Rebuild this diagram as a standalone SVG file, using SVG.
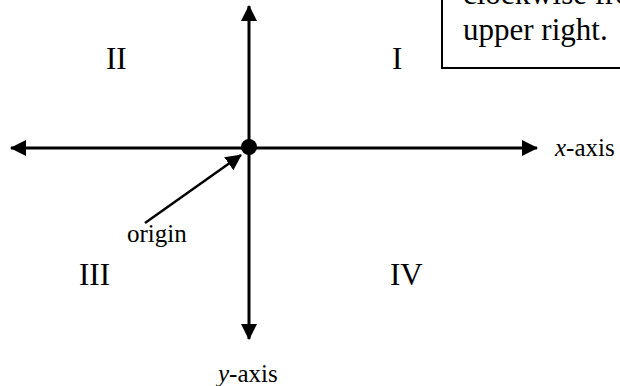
<svg xmlns="http://www.w3.org/2000/svg" width="620" height="386" viewBox="0 0 620 386">
  <style>
    text { font-family: 'Liberation Serif', 'DejaVu Serif', serif; fill: #000; }
    .big { font-size: 31px; }
    .small { font-size: 25px; }
    .ax { stroke: #000; stroke-width: 3; fill: none; }
    .ptr { stroke: #000; stroke-width: 2.5; fill: none; }
  </style>
  <defs>
    <marker id="head" viewBox="0 0 16 16" refX="15" refY="8" markerWidth="16" markerHeight="16" markerUnits="userSpaceOnUse" orient="auto">
      <path d="M0,0 L16,8 L0,16 Z" fill="#000"/>
    </marker>
  </defs>
  <rect width="620" height="386" fill="#fff"/>

  <g id="note">
    <rect x="442" y="-60" width="240" height="128" fill="#fff" stroke="#000" stroke-width="2"/>
    <text class="big" x="463" y="4" font-family="Liberation Serif, serif">clockwise from</text>
    <text class="big" x="463" y="40" font-family="Liberation Serif, serif">upper right.</text>
  </g>

  <g id="connectors">
    <line class="ax" x1="249" y1="148" x2="537" y2="148" marker-end="url(#head)"/>
    <line class="ax" x1="249" y1="148" x2="11" y2="148" marker-end="url(#head)"/>
    <line class="ax" x1="249" y1="148" x2="249" y2="6" marker-end="url(#head)"/>
    <line class="ax" x1="249" y1="148" x2="249" y2="339" marker-end="url(#head)"/>
    <line class="ptr" x1="145" y1="223" x2="241" y2="155" marker-end="url(#head)"/>
  </g>

  <g id="origin">
    <circle cx="249" cy="147" r="8" fill="#000"/>
    <text class="small" x="127" y="242">origin</text>
  </g>

  <g id="x-axis-label"><text class="small" x="555" y="156"><tspan font-style="italic">x</tspan>-axis</text></g>
  <g id="y-axis-label"><text class="small" x="218" y="382"><tspan font-style="italic">y</tspan>-axis</text></g>

  <g id="q1"><text class="big" x="392" y="69">I</text></g>
  <g id="q2"><text class="big" x="106" y="69">II</text></g>
  <g id="q3"><text class="big" x="79" y="285">III</text></g>
  <g id="q4"><text class="big" x="390" y="285">IV</text></g>
</svg>
